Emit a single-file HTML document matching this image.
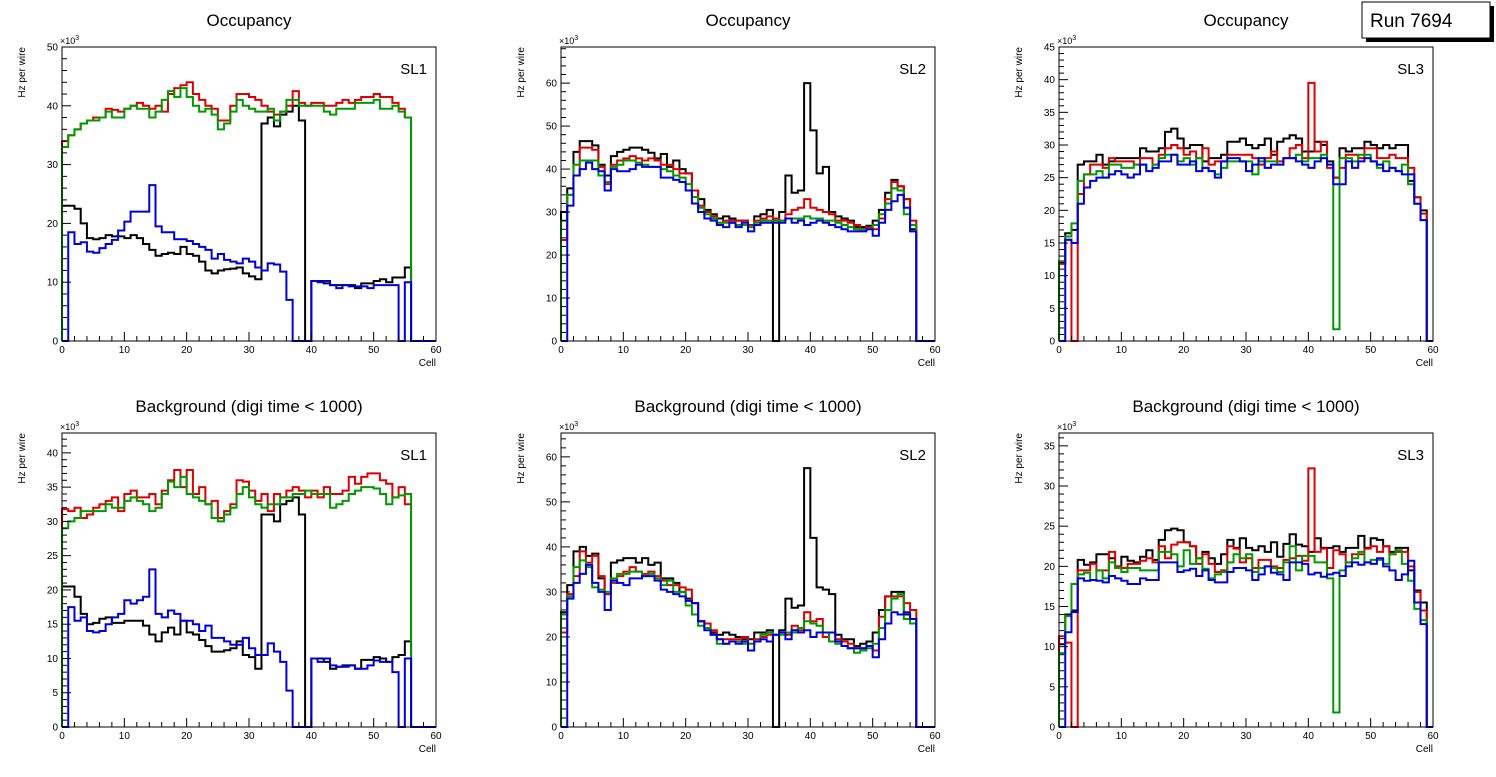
<!DOCTYPE html>
<html><head><meta charset="utf-8"><style>
body{margin:0;background:#fff;width:1496px;height:772px;overflow:hidden;font-family:"Liberation Sans",sans-serif}
</style></head><body>
<svg id="c" width="1496" height="772" xmlns="http://www.w3.org/2000/svg" font-family="Liberation Sans, sans-serif"></svg>
<script>
// Panel data (values in units of 10^3 Hz per wire), bins are cells 0..59
const p1Black=[23,23,22.5,20,17.5,17.3,17.5,18,17.8,17.8,17.5,18,17.5,16.5,15.5,14.5,14.8,15,14.8,16,14.8,14.5,13.5,12,11.5,12,12.2,12.3,12.5,11.5,11,10.5,37,38,36.5,38.5,39,40,37.5,0,10.2,10.2,9.8,9.5,9.5,9.5,9.5,9,9.8,9.8,10.2,10.5,10,10.8,10.8,12.5];
const p1Red=[34,35,36,37,37.5,38,38,39.5,39.3,39,39.5,40,40.5,40,39.5,40,39,42,43,43.5,44,42,41,40,39.5,37.5,37.5,40,42,42,41.5,41,40,39,38.5,39,40,42.5,40.5,40,40.5,40.5,40,40,40.5,41,40.5,41,41.5,41.5,42,41.5,41.5,40.5,39.5,38];
const p1Green=[33,35,36,37,37.5,37.5,38,39,38,38,39.5,40,39.5,39.5,38,39,41,42.5,41.5,43,41.5,40,39,39.5,38.5,36,37,39,41,40,39.5,39,39,39.5,37.5,39,41,41,40,40,40,40,39,38.5,39.5,39.5,39.5,40.5,40.5,40.5,41,39.5,39.5,40,39,38];
const p1Blue=[0,18.5,16.5,16.8,15.2,15,15.8,16.5,17.2,18.8,20.3,22,22,22,26.5,19.5,18.5,18.5,17.3,17.3,17,16.5,16,15.5,14,14.8,13.8,13.5,13.2,14,13.5,12.5,12,13.2,13,11.8,7,0,0,0,10.2,10,10.2,9.5,9,9.5,9.3,9.3,9.3,9,9.5,9.5,9.5,9.5,0,10];
const p2Black=[30,35.5,44,46.5,46.5,45.5,41,38.5,43,44,44.5,45,45,44.5,43.8,42.5,43.5,40.5,42,40,39,35,33,30.5,29.5,28.5,29,28.5,28,28,27,29,29.5,30.5,0,30,38.5,34.5,35,60,49,39,40.5,30,29,28.5,28,26.5,26.5,26.8,28,30.5,34.5,37.5,36,33,26];
const p2Red=[23.5,34,38.5,45,45,44.5,40.5,36.5,41,42,42.5,43,42.5,42,42.5,42,41,41,40,39,39,35,31.5,30,29,27.5,28,28,28,28,27,28,28.5,29,28.5,28,29.5,30.5,31,33,31,30.5,30,29.5,28,28,27.5,27,26,26.5,26,28.5,33,37,36,33,28];
const p2Green=[28,34,41,42,42,42,38.5,37,40.5,41,42,42,41.5,41,40.5,40.5,40,39.5,38.5,38,36.5,33.5,31,29.5,28.5,27.5,27.5,27.5,27,27,26.5,27.5,28,28,28,28,28.5,28.5,28.5,29,28.5,28.5,28,28,27.5,27,26.5,26,26,26,27,29.5,32,35.5,35,29.5,27];
const p2Blue=[0,31.5,38.5,40,41.5,40,39.5,35,40,39.5,39.5,40,41,40.5,40.5,40.5,38,38,37.5,37,35,32,30,28.5,28,27,26.5,27.5,26.5,27.5,25.5,27,27.5,27.5,27.5,27.5,28.5,27.5,28,27,27.5,28,27.5,27,26.5,26,25.5,25.5,25.5,26,24.5,27.5,30.5,32.5,34,31,25.5];
const p3Black=[12,16.5,17,27,27.5,27.5,28.5,27,27.5,28,28,28,28,29.5,29,29,29.5,32,32.5,31,29.5,30,30,27.5,28,28,28.5,30.5,30.5,31,30,29.5,30,31,28.5,30.5,31,31.5,31,29,29,30.5,30,27.5,25,29.5,29,29.5,29.5,30.5,30,29.5,30,29.5,30,30,24.5,22,20];
const p3Red=[11.8,15.5,0,22.5,25.5,27,27,26.5,28,27.5,27.5,27.5,27,28,28,27,28.5,29.5,30,29.5,28.5,29,28,29.5,27,27.5,27.5,28.5,28.5,28.5,28.5,28,27,28,29,27.5,28,29.5,30,28,39.5,29,30.5,26.5,25,26.5,28.5,28.5,28,29.5,29.5,28,28,28.5,28,28,26.5,22,19.5];
const p3Green=[12.2,16,18,24.5,25.5,25.5,26,25,27,27,26.5,26.5,27,27,26,27,28,28.5,28.5,27.5,28,27,28,26.5,26,25.5,26.5,27.5,27.5,27.5,27.5,25.5,27.5,27.5,27.5,27,28,28,28.5,27.5,28,28,28.5,27,1.8,28,28,27.5,28.5,28.5,27.5,26.5,27.5,26.5,26,27,24,21,18.5];
const p3Blue=[0,15.5,15,21,23.5,24.5,25,25,25.5,26,25.5,25,25.5,27,26,26.5,27.5,27.5,28.5,27,27,27.5,26,26.5,26,25,27.5,28,28,27.5,26,27,28,26.5,27,27,28,28,27.5,27,26.5,27.5,28,27,24,24,27.5,26.5,27.5,28,27.5,27,26,26.5,26,25.5,25.5,21,18.5];
const p4Black=[20.5,20.5,19,16.5,15,15.2,15.8,16,15.2,15.2,15.5,15.5,15.5,14.8,13.5,12.5,13.8,14.5,13.5,15.5,13.8,13.5,12.7,11.8,11,11,11.2,11.5,12.5,10.5,10.2,8.5,31,31,30,32.5,33,33.5,31,0,10,10,9.5,8.5,8.8,9,9,8.5,9.8,9.8,10.2,10,9.5,10.2,10.5,12.5];
const p4Red=[31.8,31.5,32,30.5,31,32,32.5,33,33.5,31.5,34,34.5,33.5,33.5,34,32.5,34.5,36,37.5,35,37.5,34,35,32.5,33,30.5,31.5,32.5,36,35.8,34.5,33,34,31.5,34,33.5,34.5,35,34.5,33.5,34.5,33.5,35,34,34,34.5,36.5,35.5,36.5,37,37,36,35.5,33.5,35,32.5];
const p4Green=[29,30,30.5,31.5,31.5,31.5,31.5,32.5,32,32,33,33.5,33,32.5,31.5,32,34,35.8,35,36.5,34,33.5,33,32.5,30.5,30,31,32,34,35,33.5,32.5,32,32.5,32.5,33.5,33.5,34,34,34.5,34,34,34,32,32.5,33,34,34.5,35,35,34.8,34,32.5,33.5,33.8,34];
const p4Blue=[0,17.5,15.5,16,14,13.8,14,15,16,16.5,18.5,18,18.5,19,23,16.5,16,17,16.5,15.5,15.5,15,14,14.8,13,13,12.5,12,12,13,11.5,10.5,10.5,12.2,11,9.5,5.3,0,0,0,10,9.5,10,9,8.8,8.8,9,8.5,8.5,9,9.7,9.5,9.5,8,0,10];
const p5Black=[25.5,31.5,39,40,38,38.5,33,29.5,36.5,37,37.5,37.5,36.5,37.5,36,36.5,33,33,32,30,28.5,27.5,23.5,22,21,20.5,21,20.5,20,19.5,19.5,21,21,21.5,0,21.5,28.5,26.5,27,57.5,42,31,30.5,29.5,20.5,19.5,19.5,18,18.5,19,21,26,29,30,30,25,24];
const p5Red=[21,29.5,33.5,39,36.5,38,33.5,29.5,32,33.5,34.5,35.5,34.5,34,34.5,33.5,32.5,31.5,31.5,31,30.5,27.5,23.5,23,21.5,19.5,19.5,19.5,19.5,20,18.5,19.5,20,20.5,20.5,21,20.5,22.5,21.5,25.5,23.5,24,20,21,19.5,19,18.5,17.5,17.5,18,17,24.5,29,29,29,27.5,26];
const p5Green=[25,29,35.5,37,35.5,31,30.5,30,33,34,34,34.5,34.5,33.5,34,33,31.5,32.5,30,30,27,25,22.5,22,20.5,18.5,18.5,19,19,18.5,18.5,19,20.5,21,20.5,20.5,21,21,22,23.5,23,22.5,21,19,18.5,18,17.5,16.5,17,17.5,18.5,22,26,28.5,29.5,24,23];
const p5Blue=[0,28.5,32,34,36,32,30,26,32.5,32,31.5,33,33,33.5,33.5,32.5,30.5,30,29.5,29,28,27.5,23.5,21.5,20.5,19.5,18.5,19,18.5,19,17,19,19.5,19,20.5,21,19.5,21.5,21,21.5,20,21,21,21,19,18,17.5,17.5,17.5,18,15.5,19.5,23,25.5,25,25.5,24];
const p6Black=[10.3,14,14.5,20.8,20.2,20.5,21.5,21.5,21,20,21.2,20.7,20.5,21.2,22,20.8,23.3,24.5,24.7,24.5,23,22.5,21,21.8,21,20.3,21.5,23.3,22.3,23.5,22.3,22,22.5,21.8,23,21.2,22.8,24,22.7,22.5,21.8,23.5,22.3,22.3,22.5,21.8,22.3,22.3,23.8,22.3,23.5,23.3,22.5,21.8,22.3,22.3,19.5,17,15.5];
const p6Red=[11.3,10.5,0,19.5,19.5,20.3,19.5,19.5,21.8,20,19.8,20.3,20.3,20.7,21,20.5,22.5,21,22.7,23,23,22.5,20.3,21.5,20.3,19.3,19.5,22.5,22.2,20.5,21,19.8,20.8,20.8,20,19.8,20.8,21,21.3,20.7,32.2,21.8,22.2,19.8,22,21.5,20.5,21.5,21.5,22.2,22.5,21.8,22.5,21.5,21.8,21.8,20,16.8,14.5];
const p6Green=[9.2,13.8,17.8,19,19.2,18.3,19.5,18.5,20.5,19.8,19.3,19.8,19.8,19.5,19.5,19.5,21.8,21.8,21.5,20,22,20.3,21,19.7,18.5,19,19.3,20.5,21.5,21,21.5,19.3,19.8,20,19.8,19.3,20.5,22.5,19.5,21.3,21.3,20.5,20.5,18.5,1.8,19.5,20.5,21,21.8,20.5,20.8,20.8,20.3,21.5,22,20.3,18.2,14.7,13.3];
const p6Blue=[0,11.8,14.3,18.5,18.2,18.3,18.2,18,18.8,18.5,18.2,17.8,17.8,18.5,18.3,18.3,20.5,20.5,20.5,19.3,19.5,19.7,18.8,19.5,18.3,18,18,19.3,19.8,19.8,19.5,18.3,19,20,19.2,19,18.3,20.5,20.5,20.3,19,19.2,18.7,19,19.2,18.8,20,20.5,20.2,20.5,20.3,21,20,19.5,18.3,19,20.7,15.5,12.8];
const yMaxes=[50,68.4,45,42.9,65.3,36.6];
const yTickSteps=[10,10,5,5,10,5];
const titles=["Occupancy","Occupancy","Occupancy","Background (digi time < 1000)","Background (digi time < 1000)","Background (digi time < 1000)"];
const slLabels=["SL1","SL2","SL3","SL1","SL2","SL3"];
const xTicks=[0,10,20,30,40,50,60];

const NS="http://www.w3.org/2000/svg";
const svg=document.getElementById('c');
function el(t,a,p){const e=document.createElementNS(NS,t);for(const k in a)e.setAttribute(k,a[k]);(p||svg).appendChild(e);return e;}
const series=[[p1Black,p1Red,p1Green,p1Blue],[p2Black,p2Red,p2Green,p2Blue],[p3Black,p3Red,p3Green,p3Blue],[p4Black,p4Red,p4Green,p4Blue],[p5Black,p5Red,p5Green,p5Blue],[p6Black,p6Red,p6Green,p6Blue]];
const colors=["#000000","#dd0000","#009900","#0000dd"];
const cnames=["black","red","green","blue"];
const lefts=[62,561,1059],tops=[47,433],W=374,H=294;
for(let p=0;p<6;p++){
  const L=lefts[p%3],T=tops[Math.floor(p/3)];
  const g=el('g',{});
  
  
  const xs=v=>L+v/60*W, ys=v=>T+H-v/yMaxes[p]*H;
  const t=el('text',{x:L+W/2,y:T-21,'font-size':17,'text-anchor':'middle'},g);t.textContent=titles[p];
  
  // series
  series[p].forEach((arr,si)=>{
    let d='M'+xs(0)+','+ys(0);
    for(let i=0;i<60;i++){const v=arr[i]||0;d+=' L'+xs(i)+','+ys(v)+' L'+xs(i+1)+','+ys(v);}
    d+=' L'+xs(60)+','+ys(0);
    const pa=el('path',{d:d,fill:'none',stroke:colors[si],'stroke-width':2},g);
    
    
  });
  const fr=el('rect',{x:L,y:T,width:W,height:H,fill:'none',stroke:'#000','stroke-width':1},g);
  
  // x ticks
  for(let v=0;v<=60;v+=2){const maj=v%10===0;el('line',{x1:xs(v),x2:xs(v),y1:T+H,y2:T+H-(maj?9:5),stroke:'#000'},g);}
  xTicks.forEach(v=>{const tt=el('text',{x:xs(v),y:T+H+12,'font-size':10,'text-anchor':'middle'},g);tt.textContent=v;
    });
  // y ticks
  const st=yTickSteps[p],mn=st/5;
  for(let v=0;v<=yMaxes[p]+1e-6;v+=mn){const maj=Math.abs(v/st-Math.round(v/st))<1e-6;el('line',{x1:L,x2:L+(maj?9:5),y1:ys(v),y2:ys(v),stroke:'#000'},g);}
  for(let v=0;v<=yMaxes[p]+1e-6;v+=st){const tt=el('text',{x:L-4,y:ys(v)+3.5,'font-size':10,'text-anchor':'end'},g);tt.textContent=v;
    }
  const ex=el('text',{x:L-2,y:T-3,'font-size':9},g);ex.innerHTML='×10<tspan dy="-4" font-size="7">3</tspan>';
  
  const yl=el('text',{x:0,y:0,'font-size':10,'text-anchor':'end',transform:'translate('+(L-37)+','+T+') rotate(-90)'},g);yl.textContent='Hz per wire';
  
  const xl=el('text',{x:L+W,y:T+H+25,'font-size':10,'text-anchor':'end'},g);xl.textContent='Cell';
  
  const sl=el('text',{x:L+W-9,y:T+27,'font-size':15,'text-anchor':'end'},g);sl.textContent=slLabels[p];
  
}
const rb=el('g',{});


el('rect',{x:1366,y:6,width:128,height:36,fill:'#000'},rb);
el('rect',{x:1362,y:2,width:128,height:36,fill:'#fff',stroke:'#000','stroke-width':1},rb);
const rt=el('text',{x:1370,y:27,'font-size':19},rb);rt.textContent='Run 7694';
</script>
</body></html>
